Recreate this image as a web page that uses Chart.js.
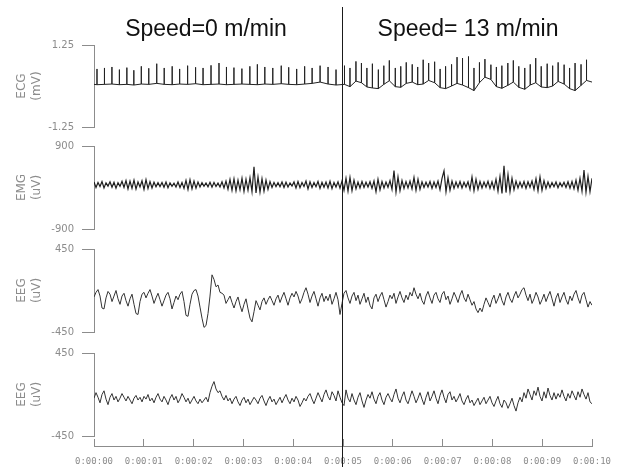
<!DOCTYPE html>
<html>
<head>
<meta charset="utf-8">
<script src="https://cdn.jsdelivr.net/npm/chart.js@4.4.1/dist/chart.umd.min.js"></script>
<style>
  body { margin: 0; background: #fff; }
  #wrap { position: relative; width: 622px; height: 467px; overflow: hidden; }
  #wrap canvas { position: absolute; left: 0; top: 0; }
  .speed {
    position: absolute; top: 15px; line-height: 26px;
    font-family: 'Liberation Sans', Arial, sans-serif; font-size: 23px; color: #111;
    transform: translateX(-50%); white-space: nowrap;
  }
</style>
</head>
<body>
<div id="wrap">
  <canvas id="ecgChart" width="622" height="467"></canvas>
  <canvas id="emgChart" width="622" height="467"></canvas>
  <canvas id="eeg1Chart" width="622" height="467"></canvas>
  <canvas id="eeg2Chart" width="622" height="467"></canvas>
  <canvas id="timeAxis" width="622" height="467"></canvas>
  <div class="speed" style="left:206px">Speed=0 m/min</div>
  <div class="speed" style="left:468px">Speed= 13 m/min</div>
</div>
<script>
// time (s) where the treadmill speed changes
const speedChangeTime = 5;
const timeLabels = ['0:00:00', '0:00:01', '0:00:02', '0:00:03', '0:00:04', '0:00:05',
  '0:00:06', '0:00:07', '0:00:08', '0:00:09', '0:00:10'];

// ECG: R-peak times (s), baseline and peak level (mV) at each beat
const ecgTimes = [0,
  0.06, 0.21, 0.36, 0.51, 0.66, 0.80, 0.95, 1.10, 1.26, 1.41, 1.57, 1.72, 1.88, 2.04, 2.19, 2.35,
  2.51, 2.66, 2.81, 2.97, 3.13, 3.28, 3.43, 3.59, 3.76, 3.91, 4.07, 4.23, 4.38, 4.54, 4.70, 4.86,
  5.03, 5.14, 5.26, 5.37, 5.48, 5.59, 5.71, 5.82, 5.93, 6.05, 6.16, 6.27, 6.39, 6.50, 6.61, 6.72,
  6.84, 6.95, 7.06, 7.18, 7.29, 7.40, 7.52, 7.63, 7.74, 7.85, 7.97, 8.08, 8.19, 8.31, 8.42, 8.53,
  8.65, 8.76, 8.87, 8.98, 9.10, 9.21, 9.32, 9.44, 9.55, 9.66, 9.78, 9.89, 10];
const ecgBase = [0.05,
  0.04, 0.05, 0.06, 0.04, 0.05, 0.03, 0.06, 0.05, 0.08, 0.05, 0.04, 0.06, 0.05, 0.07, 0.04, 0.05,
  0.06, 0.04, 0.05, 0.06, 0.05, 0.04, 0.06, 0.05, 0.07, 0.05, 0.04, 0.06, 0.08, 0.12, 0.06, 0.03,
  0.05, -0.02, 0.15, 0.10, -0.03, -0.06, -0.08, 0.05, 0.16, -0.02, -0.04, 0.08, 0.12, 0.04, 0.06, 0.17,
  0.10, -0.05, -0.08, 0.00, 0.08, 0.03, -0.05, -0.14, 0.10, 0.27, 0.20, -0.02, -0.07, 0.02, 0.12, -0.04,
  -0.10, 0.03, 0.10, -0.03, -0.05, 0.00, 0.14, 0.06, -0.08, -0.14, 0.02, 0.17, 0.12];
const ecgPeak = [0.05,
  0.52, 0.55, 0.58, 0.50, 0.56, 0.48, 0.60, 0.54, 0.68, 0.55, 0.60, 0.52, 0.62, 0.57, 0.55, 0.63,
  0.70, 0.58, 0.56, 0.53, 0.60, 0.66, 0.58, 0.55, 0.62, 0.57, 0.52, 0.60, 0.55, 0.62, 0.58, 0.50,
  0.62, 0.55, 0.75, 0.70, 0.55, 0.68, 0.50, 0.62, 0.78, 0.55, 0.60, 0.72, 0.66, 0.58, 0.80, 0.70,
  0.74, 0.52, 0.60, 0.66, 0.88, 0.85, 0.90, 0.55, 0.72, 0.82, 0.65, 0.58, 0.62, 0.70, 0.78, 0.60,
  0.55, 0.66, 0.85, 0.60, 0.68, 0.62, 0.72, 0.65, 0.55, 0.70, 0.66, 0.80, 0.12];

// EMG (uV), evenly sampled over 0-10 s
const emgValues = [
  120, 0, 110, 20, 130, -10, 100, 30, 125, 5, 115, -15, 105, 25, 135, 0, 150, -30, 140, -20, 160, -35, 120, 10, 145,
  -40, 170, -25, 130, -10, 115, 15, 105, 20, 110, 5, 120, -5, 100, 25, 95, 10, 120, 0, 110, -20, 155, -45, 170, -30,
  140, -15, 120, 10, 105, 25, 100, 15, 115, 5, 110, 20, 95, 10, 125, -10, 140, -40, 175, -60, 190, -70, 160, -50, 200,
  -85, 180, -60, 210, -90, 450, -120, 230, -100, 190, -80, 160, -40, 130, 0, 110, 20, 105, 15, 120, 0, 115, 10, 100, 30,
  120, -10, 130, -5, 110, 20, 140, -30, 125, 0, 110, 15, 130, -20, 115, 5, 120, -10, 135, -25, 110, 10, 125, -15, 140,
  -60, 200, -80, 220, -70, 160, -30, 120, -10, 130, 0, 115, 10, 125, -20, 140, -90, 180, -50, 130, -10, 120, 5, 150, -40,
  370, -100, 230, -70, 150, -20, 130, -10, 140, -30, 220, -60, 180, -40, 125, 0, 115, 10, 130, -20, 120, 0, 140, -50, 200,
  360, -90, 210, -60, 140, -20, 120, 0, 130, -10, 115, 10, 125, -40, 230, -70, 180, -40, 130, -10, 120, 5, 135, -20, 125,
  -30, 180, -80, 240, -130, 470, -110, 280, -90, 200, -50, 140, -10, 120, 0, 130, -20, 125, 5, 140, -40, 190, -70, 230, -60,
  150, -20, 120, 0, 110, 15, 120, -5, 105, 20, 115, 0, 125, -15, 130, -30, 160, -60, 200, -80, 380, -100, 240, -90, 200];

// EEG channel 1 (uV)
const eeg1Values = [
  -70, -20, 10, -60, -190, -200, -80, -10, -40, -120, -60, 0, -90, -150, -60, -30, -110, -170, -90, -40, -150, -250, -260, -120, -40,
  -20, -80, -30, 10, -60, -140, -80, -30, -100, -170, -110, -50, -20, -90, -200, -130, -60, -100, -40, -10, -120, -270, -280, -150, -40,
  0, 10, -60, -180, -300, -400, -380, -250, -60, 170, 120, 40, 60, -20, -30, -50, -140, -100, -60, -130, -190, -120, -70, -160, -230,
  -150, -90, -200, -300, -340, -230, -110, -160, -210, -120, -80, -150, -100, -60, -110, -160, -90, -50, -130, -70, -20, -90, -160, -80, -30,
  -70, -10, -60, -140, -90, -20, 30, -40, -130, -60, -10, -90, -170, -80, -30, -120, -60, -110, -40, -150, -90, -20, -100, -260, -140,
  -30, 0, -80, -140, -60, -20, -110, -50, -150, -90, -30, -130, -70, -160, -200, -80, -40, -120, -60, -20, -100, -180, -120, -50, -90,
  -30, -140, -70, -10, -80, -130, -50, -100, -20, -60, 30, -40, -90, -30, -110, -150, -60, -10, -80, -140, -50, -20, -90, -130, -40,
  -10, -100, -60, -150, -90, -20, -70, -130, -50, 0, -80, -120, -40, -100, -160, -120, -200, -240, -190, -230, -150, -80, -130, -180, -100,
  -50, -140, -90, -30, -110, -160, -70, -20, -90, -130, -60, -10, -80, -40, 10, 30, -50, -110, -40, -140, -90, -20, -70, -150, -100,
  -40, -120, -60, -10, -90, -170, -80, -30, -130, -70, -20, -100, -150, -60, -110, -40, 0, -80, -140, -50, -20, -100, -180, -120, -160];

// EEG channel 2 (uV)
const eeg2Values = [
  -40, 20, -30, -90, 0, 40, -50, -110, -30, 10, -60, -20, -80, -40, 10, -30, -70, -20, -60, -100, -40, -10, -60, -30, -80,
  -20, -50, 0, -70, -40, -90, -30, 10, -50, -80, -20, -60, -110, -40, 0, -60, -20, -90, -50, 10, -30, -80, -40, -100, -60,
  -20, -70, -100, -50, -90, -60, -30, -80, 20, 90, 140, 60, 20, 40, -20, -60, -10, -70, -40, -100, -50, -20, -80, -120, -60,
  -30, -90, -50, -110, -70, -30, -60, -100, -40, -10, -70, -120, -60, -20, -80, -50, -110, -70, -30, -90, -40, 0, -60, -100, -40,
  -80, -20, -60, -130, -90, -40, -70, -20, 10, -50, -100, -40, 20, -30, -80, 0, 50, -20, -60, 30, -10, -70, 40, -30, -90,
  -120, 50, -40, -80, 10, -60, -110, -30, 20, -70, -140, -60, 0, -40, 30, -50, -100, -20, 20, -60, -110, -30, 10, -40, -80,
  0, 60, -40, -90, -20, 30, -60, -100, -30, 40, -20, -90, -40, 20, -50, -110, -30, 30, -70, -20, 40, -40, -100, -10, 50,
  -30, -90, 0, 30, -60, -20, -80, -40, 10, -70, -110, -50, -10, -90, -60, -120, -80, -40, -110, -70, -30, -100, -60, -20, -90,
  -130, -70, -20, -100, -140, -60, -90, -150, -100, -40, -120, -180, -90, -30, -80, 20, -40, 60, 0, -60, 40, -10, 80, -20, -70,
  30, -40, 70, -10, -60, 20, -50, 10, -30, 50, -20, -70, 10, -40, 40, -10, -60, 30, -30, 60, 0, -50, 20, -80, -100];

const axisGray = '#8c8c8c';

function sampled(values) {
  return values.map((v, i) => ({ x: i * 10 / (values.length - 1), y: v }));
}

const ecgPoints = [];
ecgTimes.forEach((t, i) => {
  ecgPoints.push({ x: t, y: ecgBase[i] }, { x: t, y: ecgPeak[i] }, { x: t, y: ecgBase[i] });
});

const speedMarker = {
  id: 'speedMarker',
  afterDraw(chart) {
    const ctx = chart.ctx;
    const x = Math.round(chart.scales.x.getPixelForValue(speedChangeTime)) - 0.5;
    ctx.save();
    ctx.strokeStyle = '#1a1a1a';
    ctx.lineWidth = 1;
    ctx.beginPath();
    ctx.moveTo(x, 7);
    ctx.lineTo(x, chart.height);
    ctx.stroke();
    ctx.restore();
  }
};

function panel(id, points, lo, hi, name, unit, top, bottom, lineWidth, color) {
  return new Chart(document.getElementById(id), {
    type: 'line',
    data: {
      datasets: [{
        data: points,
        borderColor: color,
        borderWidth: lineWidth,
        pointRadius: 0,
        tension: 0
      }]
    },
    options: {
      responsive: false,
      animation: false,
      events: [],
      layout: { padding: { top: top, bottom: 467 - bottom, left: 0, right: 30 } },
      plugins: { legend: { display: false }, tooltip: { enabled: false } },
      scales: {
        x: { type: 'linear', min: 0, max: 10, display: false },
        y: {
          min: lo,
          max: hi,
          afterBuildTicks: s => { s.ticks = [{ value: lo }, { value: hi }]; },
          afterFit: s => { s.width = 94; },
          border: { color: axisGray },
          grid: { drawOnChartArea: false, tickLength: 12, color: axisGray },
          ticks: {
            color: axisGray,
            font: { family: 'DejaVu Sans', size: 10 },
            padding: 8,
            callback: v => String(v)
          },
          title: {
            display: true,
            text: [name, unit],
            color: axisGray,
            font: { family: 'DejaVu Sans', size: 12 },
            padding: { top: 15, bottom: 0 }
          }
        }
      }
    }
  });
}

panel('ecgChart', ecgPoints, -1.25, 1.25, 'ECG', '(mV)', 45, 127, 1, '#222');
panel('emgChart', sampled(emgValues), -900, 900, 'EMG', '(uV)', 146, 229, 1.2, '#1e1e1e');
panel('eeg1Chart', sampled(eeg1Values), -450, 450, 'EEG', '(uV)', 249, 332, 1, '#333');
panel('eeg2Chart', sampled(eeg2Values), -450, 450, 'EEG', '(uV)', 353, 436, 1, '#333');

// shared time axis at the bottom, ticks pointing up into a thin strip
new Chart(document.getElementById('timeAxis'), {
  type: 'line',
  data: { datasets: [] },
  options: {
    responsive: false,
    animation: false,
    events: [],
    layout: { padding: { top: 439, bottom: 0, left: 94, right: 30 } },
    plugins: { legend: { display: false }, tooltip: { enabled: false } },
    scales: {
      x: {
        type: 'linear',
        min: 0,
        max: 10,
        afterFit: s => { s.height = 21; },
        afterBuildTicks: s => { s.ticks = timeLabels.map((_, i) => ({ value: i })); },
        border: { color: axisGray },
        grid: { color: axisGray, drawTicks: false },
        ticks: {
          color: axisGray,
          font: { family: 'DejaVu Sans Mono', size: 9 },
          padding: 10,
          maxRotation: 0,
          autoSkip: false,
          callback: v => timeLabels[v]
        }
      },
      y: { display: false, min: 0, max: 1 }
    }
  },
  plugins: [speedMarker]
});
</script>
</body>
</html>
